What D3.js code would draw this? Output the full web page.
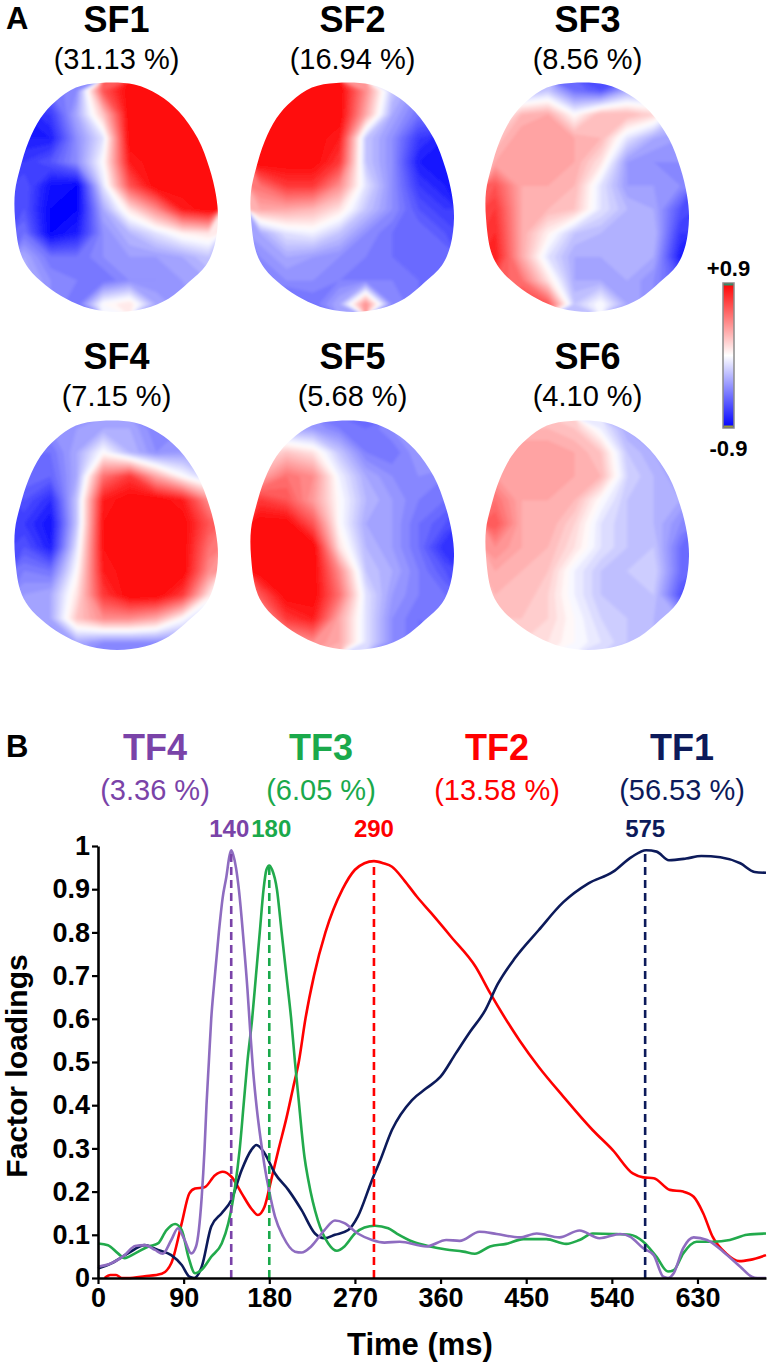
<!DOCTYPE html>
<html>
<head>
<meta charset="utf-8">
<script src="https://cdn.jsdelivr.net/npm/d3@7"></script>
<style>
  body { margin: 0; background: #fff; }
  text { font-family: "Liberation Sans", Arial, sans-serif; }
</style>
</head>
<body>
<svg id="fig" width="768" height="1366"></svg>
<script>
// ---- panel A data: spatial factors, loadings read on an 8 x 10 grid (rows top -> bottom) ----
const sfNames = ["SF1", "SF2", "SF3", "SF4", "SF5", "SF6"];
const sfVariance = ["31.13", "16.94", "8.56", "7.15", "5.68", "4.10"];

const sf1 = [
  [-.5, -.5, -.4, .6, .9, .9, .9, .9],
  [-.8, -.7, -.3, .2, .9, .9, .9, .9],
  [-.8, -.8, -.4, -.1, .9, .9, .9, .9],
  [-.7, -.6, -.4, 0, .8, .9, .9, .9],
  [-.6, -.85, -.9, -.1, .6, .9, .9, .9],
  [-.6, -.9, -.9, -.3, .1, .4, .8, .9],
  [-.5, -.9, -.8, -.4, -.25, -.1, .05, .1],
  [-.3, -.5, -.5, -.4, -.35, -.35, -.3, -.2],
  [-.25, -.4, -.45, -.5, -.4, -.4, -.35, -.3],
  [-.3, -.4, -.5, 0, .1, -.3, -.4, -.3]
];
const sf2 = [
  [.9, .9, .9, .9, .4, -.2, -.4, -.4],
  [.9, .9, .9, .9, .3, -.3, -.5, -.5],
  [.9, .9, .9, .8, -.2, -.4, -.7, -.8],
  [.9, .9, .9, .7, -.2, -.4, -.8, -.8],
  [.5, .7, .7, .4, -.1, -.4, -.7, -.8],
  [.3, .3, .25, .1, -.2, -.4, -.6, -.7],
  [-.3, -.1, -.05, -.2, -.4, -.5, -.5, -.6],
  [-.4, -.3, -.35, -.4, -.45, -.5, -.5, -.5],
  [-.4, -.4, -.4, -.45, -.45, -.45, -.5, -.5],
  [-.6, -.6, -.5, -.3, .4, -.4, -.5, -.5]
];
const sf3 = [
  [-.3, -.3, -.2, -.5, -.6, -.3, -.3, -.3],
  [-.1, .25, .3, 0, .25, .25, .15, -.2],
  [.2, .35, .35, .3, .25, -.1, -.3, -.35],
  [.3, .35, .35, .3, .1, -.35, -.4, -.4],
  [.6, .3, .3, .25, -.1, -.35, -.35, -.4],
  [.7, .3, .25, .2, -.1, -.25, -.3, -.6],
  [.75, .3, .05, -.2, -.25, -.25, -.25, -.7],
  [.8, .3, -.1, -.3, -.3, -.25, -.3, -.8],
  [.6, .5, .1, -.3, -.3, -.3, -.4, -.6],
  [.5, .7, .6, -.2, 0, -.3, -.4, -.5]
];
const sf4 = [
  [-.4, -.4, -.35, -.3, -.3, -.45, -.4, -.4],
  [-.5, -.5, -.3, 0, -.25, -.4, -.35, -.3],
  [-.5, -.55, -.3, .5, .7, .3, 0, -.2],
  [-.6, -.75, -.2, .8, .9, .9, .8, .4],
  [-.7, -.85, -.2, .85, .9, .9, .9, .6],
  [-.6, -.8, -.1, .85, .9, .9, .9, .5],
  [-.45, -.5, 0, .8, .9, .9, .9, .4],
  [-.35, -.3, .1, .7, .9, .9, .7, .1],
  [-.3, -.3, .2, .4, .4, .3, 0, -.3],
  [-.4, -.45, -.3, -.4, -.4, -.4, -.4, -.3]
];
const sf5 = [
  [-.3, -.3, -.35, -.45, -.5, -.4, -.3, -.3],
  [.1, .2, .1, -.2, -.45, -.5, -.35, -.3],
  [.3, .5, .4, -.05, -.3, -.4, -.4, -.45],
  [.7, .6, .35, 0, -.25, -.35, -.45, -.5],
  [.9, .9, .6, 0, -.3, -.35, -.5, -.6],
  [.9, .9, .9, .1, -.25, -.35, -.5, -.75],
  [.9, .9, .9, .4, -.2, -.3, -.45, -.6],
  [.6, .9, .9, .5, -.1, -.35, -.45, -.5],
  [.3, .7, .8, .3, -.1, -.4, -.5, -.45],
  [.2, .3, .4, .3, -.1, -.4, -.5, -.5]
];
const sf6 = [
  [.2, .25, .25, .2, -.05, -.3, -.3, -.3],
  [.3, .35, .35, .3, .2, -.2, -.3, -.35],
  [.35, .35, .35, .3, .25, -.15, -.25, -.35],
  [.5, .3, .3, .25, 0, -.2, -.25, -.3],
  [.6, .3, .3, .15, -.1, -.2, -.25, -.4],
  [.4, .3, .25, .1, -.1, -.2, -.2, -.5],
  [.3, .25, .2, -.05, -.2, -.2, -.15, -.5],
  [.25, .25, .15, -.05, -.2, -.2, -.2, -.6],
  [.2, .2, .15, 0, -.15, -.2, -.25, -.3],
  [.1, .15, .1, 0, -.1, -.2, -.25, -.3]
];
const sfGrids = [sf1, sf2, sf3, sf4, sf5, sf6];
const scaleLabels = ["+0.9", "-0.9"];

// ---- panel B data: temporal factors, [time ms, loading] ----
const tfNames = ["TF4", "TF3", "TF2", "TF1"];
const tfVariance = ["3.36", "6.05", "13.58", "56.53"];
const tfPeaks = [140, 180, 290, 575];

const tf4 = [[0,.026],[14,.034],[28,.053],[39,.074],[49,.076],[60,.065],[68,.056],[77,.088],[84,.115],[91,.088],[98,.057],[103,.073],[109,.188],[112,.3],[114,.4],[116.5,.5],[119,.6],[122,.68],[127,.8],[131,.88],[135,.93],[138,.975],[140,.99],[142,.98],[145,.95],[148,.9],[153,.78],[157,.67],[160,.57],[163,.48],[167,.39],[171,.32],[175,.26],[180,.2],[186,.142],[194.5,.096],[207,.061],[214,.059],[224,.073],[238,.111],[249,.133],[259,.127],[273,.103],[288,.088],[301,.082],[317,.084],[345,.073],[366,.088],[380,.086],[401,.107],[419,.102],[443,.094],[461,.103],[485,.094],[506,.11],[527,.092],[549,.102],[559,.096],[573,.069],[584,.053],[594,.003],[599,0],[605,.011],[615,.069],[626,.094],[640,.088],[657,.061],[675,.026],[687,.003],[693,0],[702,0]];
const tf3 = [[0,.08],[10.5,.076],[21,.057],[28,.046],[39,.057],[53,.073],[63,.08],[72,.111],[81,.125],[88,.111],[95,.049],[102,.011],[109,.019],[119,.049],[130,.08],[137,.127],[144,.211],[149,.3],[153,.4],[157,.5],[162,.6],[166,.7],[170,.8],[174,.9],[177,.945],[180,.955],[183,.945],[188,.9],[193,.8],[198,.7],[203,.6],[207,.5],[211,.41],[214,.34],[217,.28],[221,.227],[231,.134],[242,.08],[251,.063],[259,.073],[270,.103],[280,.117],[291,.121],[305,.115],[314,.103],[331,.084],[349,.073],[366,.066],[384,.061],[396,.056],[412,.073],[429,.079],[447,.09],[471,.09],[492,.079],[506,.088],[520,.103],[541,.102],[559,.1],[573,.084],[587,.049],[599,.015],[605,.018],[615,.057],[629,.084],[646,.084],[664,.088],[682,.1],[702,.103]];
const tf2 = [[7,0],[13,.007],[19,.007],[25,0],[31,0],[49,.004],[67,.01],[77,.034],[88,.127],[96,.196],[102,.207],[112,.21],[123,.238],[131,.246],[140,.235],[151,.196],[161,.161],[168,.146],[175,.165],[182,.227],[190,.3],[198,.37],[205,.44],[211,.5],[218,.6],[227,.7],[239,.8],[257,.9],[270,.945],[280,.96],[290,.965],[300,.96],[309,.952],[322,.92],[335,.883],[350,.845],[371,.79],[397,.72],[412,.66],[443,.55],[463,.489],[489,.42],[520,.342],[541,.296],[562,.242],[573,.233],[584,.231],[601,.204],[615,.2],[626,.188],[636,.15],[646,.095],[660,.057],[674,.039],[685,.042],[702,.053]];
const tf1 = [[0,.022],[14,.034],[31.5,.057],[49,.076],[63,.065],[77,.053],[88,.03],[96,.003],[101,0],[109,.026],[119,.119],[130,.15],[140,.18],[151,.25],[161,.296],[166.5,.308],[175,.289],[186,.242],[200,.204],[214,.157],[228,.103],[238,.092],[249,.1],[263,.111],[273,.142],[288,.227],[296,.269],[309,.343],[330,.412],[345,.439],[360,.466],[376,.52],[391,.57],[407,.62],[420,.68],[438,.74],[463,.805],[489,.87],[515,.913],[541,.94],[561,.975],[576,.99],[587,.987],[600,.967],[618,.971],[634,.977],[654,.974],[675,.96],[690,.94],[702,.938]];
const tfSeries = [tf4, tf3, tf2, tf1];

const timeTicks = [0, 90, 180, 270, 360, 450, 540, 630];
const loadingTicks = [0, 0.1, 0.2, 0.3, 0.4, 0.5, 0.6, 0.7, 0.8, 0.9, 1];

// ---- layout and styles ----
const svg = d3.select("#fig");
const font = "'Liberation Sans', Arial, sans-serif";
const tfTitleColors = ["#7a43a8", "#1aa94b", "#ff0000", "#0c1a5a"];
const tfLineColors = ["#8e6cc0", "#22aa4c", "#ff0000", "#0c1a5a"];
const drawOrder = [2, 3, 1, 0];

// normalized head outline (x, y in 0..1 of head box)
const headShape = [[.42,0],[.30,.02],[.20,.08],[.126,.153],[.067,.255],[.025,.372],[0,.474],[0,.591],[.025,.737],[.067,.81],[.151,.883],[.252,.942],[.37,.985],[.504,1],[.639,.985],[.756,.942],[.857,.869],[.941,.796],[.983,.708],[1,.591],[.99,.489],[.958,.372],[.9,.241],[.807,.124],[.706,.051],[.588,.007]];
const headLeft = [15, 251, 486], headTop = [83, 421], headW = 203, headH = 229;
const titleBase = [32, 369], pctBase = [69, 406];

const topoColor = d3.scaleLinear()
  .domain([-0.9, 0, 0.9])
  .range(["#0000ff", "#ffffff", "#ff0000"])
  .clamp(true);

const defs = svg.append("defs");
defs.append("filter").attr("id", "soft")
  .attr("x", "-10%").attr("y", "-10%").attr("width", "120%").attr("height", "120%")
  .append("feGaussianBlur").attr("stdDeviation", 1.4);

// panel letters
svg.append("text").attr("x", 6).attr("y", 29).style("font-size", "31px")
  .style("font-weight", "bold").text("A");
svg.append("text").attr("x", 6).attr("y", 757).style("font-size", "31px")
  .style("font-weight", "bold").text("B");

// ---- panel A: topographic maps ----
const nCols = 8, nRows = 10;
const step = 0.05;
const levels = d3.range(-0.95, 0.96, step);
const contours = d3.contours().size([nCols, nRows]).thresholds(levels);
const outline = d3.line().curve(d3.curveCatmullRomClosed.alpha(0.5));

sfGrids.forEach(function (grid, k) {
  const col = k % 3, row = Math.floor(k / 3);
  const x0 = headLeft[col], y0 = headTop[row];
  const cx = x0 + headW / 2;

  svg.append("text")
    .attr("x", cx).attr("y", titleBase[row])
    .attr("text-anchor", "middle")
    .style("font-size", "36px").style("font-weight", "bold")
    .text(sfNames[k]);
  svg.append("text")
    .attr("x", cx).attr("y", pctBase[row])
    .attr("text-anchor", "middle")
    .style("font-size", "29px")
    .text("(" + sfVariance[k] + " %)");

  const pts = headShape.map(p => [x0 + p[0] * headW, y0 + p[1] * headH]);
  defs.append("clipPath").attr("id", "head" + k)
    .append("path").attr("d", outline(pts));

  const clipped = svg.append("g").attr("clip-path", "url(#head" + k + ")");
  const blurred = clipped.append("g").attr("filter", "url(#soft)");
  const inner = blurred.append("g")
    .attr("transform", `translate(${x0 - 4},${y0 - 4}) scale(${(headW + 8) / nCols},${(headH + 8) / nRows})`);

  inner.selectAll("path")
    .data(contours(grid.flat()))
    .enter().append("path")
    .attr("d", d3.geoPath())
    .attr("fill", d => topoColor(d.value + step / 2))
    .attr("stroke", d => topoColor(d.value + step / 2))
    .attr("stroke-width", 0.02);
});

// colour scale bar
const barX = 723, barY = 283, barW = 11, barH = 145;
const grad = defs.append("linearGradient").attr("id", "bar")
  .attr("x1", 0).attr("y1", 0).attr("x2", 0).attr("y2", 1);
d3.range(0, 1.001, 0.1).forEach(function (f) {
  grad.append("stop").attr("offset", f).attr("stop-color", topoColor(0.9 - 1.8 * f));
});
svg.append("rect").attr("x", barX).attr("y", barY).attr("width", barW).attr("height", barH)
  .attr("fill", "url(#bar)").attr("stroke", "#8c8c8c").attr("stroke-width", 1.5);
svg.append("rect").attr("x", barX + 1).attr("y", barY + 0.5).attr("width", barW - 2).attr("height", 2)
  .attr("fill", "#2f8f6a");
svg.append("rect").attr("x", barX + 1).attr("y", barY + barH - 2.5).attr("width", barW - 2).attr("height", 2)
  .attr("fill", "#9a9a35");
svg.append("text").attr("x", barX + barW / 2).attr("y", 276).attr("text-anchor", "middle")
  .style("font-size", "22px").style("font-weight", "bold").text(scaleLabels[0]);
svg.append("text").attr("x", barX + barW / 2).attr("y", 456).attr("text-anchor", "middle")
  .style("font-size", "22px").style("font-weight", "bold").text(scaleLabels[1]);

// ---- panel B: factor loadings over time ----
const x = d3.scaleLinear().domain([0, 702]).range([98, 766]);
const y = d3.scaleLinear().domain([0, 1]).range([1278, 846]);

const tfCenters = [155, 321, 497, 682];
tfNames.forEach(function (name, i) {
  svg.append("text")
    .attr("x", tfCenters[i]).attr("y", 760)
    .attr("text-anchor", "middle")
    .style("font-size", "36px").style("font-weight", "bold")
    .attr("fill", tfTitleColors[i])
    .text(name);
  svg.append("text")
    .attr("x", tfCenters[i]).attr("y", 800)
    .attr("text-anchor", "middle")
    .style("font-size", "29px")
    .attr("fill", tfTitleColors[i])
    .text("(" + tfVariance[i] + " %)");
});

const line = d3.line()
  .x(d => x(d[0]))
  .y(d => y(d[1]))
  .curve(d3.curveMonotoneX);

drawOrder.forEach(function (i) {
  svg.append("path")
    .datum(tfSeries[i])
    .attr("fill", "none")
    .attr("stroke", tfLineColors[i])
    .attr("stroke-width", 2.6)
    .attr("stroke-linejoin", "round")
    .attr("d", line);
});

// dashed peak markers with labels
const peakLabelDx = [-2, 2, 0, 0];
tfPeaks.forEach(function (t, i) {
  const series = tfSeries[i];
  const peak = d3.max(series, d => d[1]);
  svg.append("line")
    .attr("x1", x(t)).attr("x2", x(t))
    .attr("y1", y(0)).attr("y2", y(peak))
    .attr("stroke", tfTitleColors[i])
    .attr("stroke-width", 2.6)
    .attr("stroke-dasharray", "8,5");
  svg.append("text")
    .attr("x", x(t) + peakLabelDx[i]).attr("y", 837)
    .attr("text-anchor", "middle")
    .style("font-size", "24px").style("font-weight", "bold")
    .attr("fill", tfTitleColors[i])
    .text(t);
});

// axes
const xAxis = svg.append("g")
  .attr("transform", `translate(0,${y(0)})`)
  .call(d3.axisBottom(x).tickValues(timeTicks).tickSize(6).tickSizeOuter(0).tickPadding(4));
const yAxis = svg.append("g")
  .attr("transform", `translate(${x(0)},0)`)
  .call(d3.axisLeft(y).tickValues(loadingTicks).tickSize(6).tickSizeOuter(0).tickPadding(2)
    .tickFormat(d => (d === 0 || d === 1) ? d3.format("d")(d) : d3.format(".1f")(d)));

[xAxis, yAxis].forEach(function (ax) {
  ax.select(".domain").attr("stroke", "#000").attr("stroke-width", 2.6);
  ax.selectAll(".tick line").attr("stroke", "#000").attr("stroke-width", 2.2);
  ax.selectAll(".tick text")
    .attr("fill", "#000")
    .style("font-family", font)
    .style("font-size", "27px")
    .style("font-weight", "bold");
});

svg.append("text")
  .attr("x", 420).attr("y", 1355)
  .attr("text-anchor", "middle")
  .style("font-size", "31px").style("font-weight", "bold")
  .text("Time (ms)");
svg.append("text")
  .attr("transform", "translate(27,1066) rotate(-90)")
  .attr("text-anchor", "middle")
  .style("font-size", "30px").style("font-weight", "bold")
  .text("Factor loadings");
</script>
</body>
</html>
